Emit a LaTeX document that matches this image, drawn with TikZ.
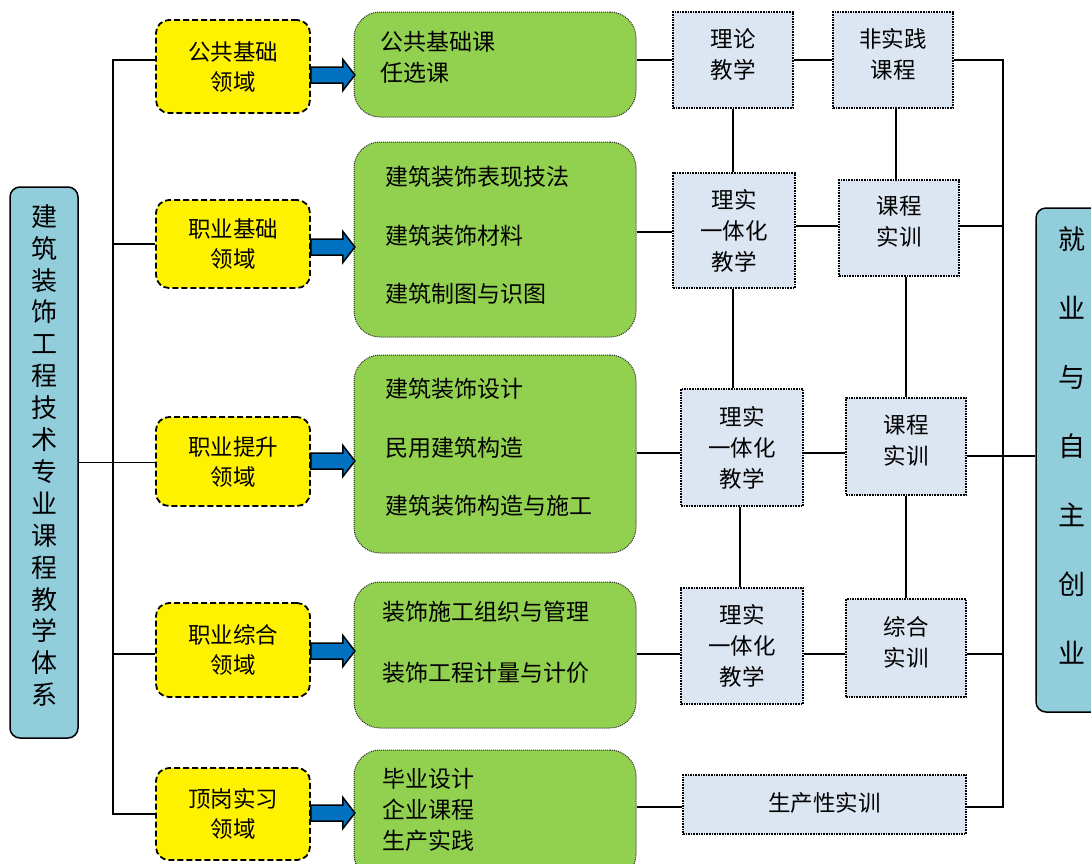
\documentclass[tikz,border=0pt]{standalone}
\usepackage{fontspec}
\newfontfamily\cjk{Noto Sans CJK SC}
\definecolor{sidecyan}{RGB}{146,205,220}
\definecolor{gfill}{RGB}{146,208,80}
\definecolor{tfill}{RGB}{220,230,242}
\definecolor{barrowc}{RGB}{0,112,192}
\begin{document}
\begin{tikzpicture}[x=1pt,y=-1pt,
  conn/.style={line width=1.5pt, black},
  sidebox/.style={draw=black, line width=1.5pt, fill=sidecyan, rounded corners=10pt, inner sep=0pt},
  ybox/.style={draw=black, line width=1.8pt, dash pattern=on 6pt off 3pt, fill=yellow, rounded corners=13pt,
    minimum width=154pt, inner sep=0pt, font=\cjk\fontsize{22.5}{30}\selectfont, align=center},
  gbox/.style={draw=black!85, line width=1pt, dash pattern=on 1pt off 1pt, fill=gfill, rounded corners=26pt,
    minimum width=282pt, inner sep=0pt},
  tbox/.style={draw=black, line width=1.6pt, dash pattern=on 1.6pt off 1pt, fill=tfill, inner sep=0pt},
  gtxt/.style={anchor=west, align=left, inner sep=0pt},
  ttxt/.style={align=center, inner sep=0pt, font=\cjk\fontsize{22.5}{31}\selectfont},
  barrow/.style={draw=black, line width=1.5pt, fill=barrowc, line join=miter},
  bluearrow/.pic={\draw[barrow] (0,-8) -- (32,-8) -- (32,-15.5) -- (44,0) -- (32,15.5) -- (32,8) -- (0,8) -- cycle;}
]
\clip (0,0) rectangle (1091,863);
\fill[white] (0,0) rectangle (1091,863);

% side boxes
\node[sidebox, minimum width=68pt, minimum height=551pt] (L) at (44,462.5) {};
\node[align=center, inner sep=0pt, font=\cjk\fontsize{26}{31.9}\selectfont] (Lt) at (44,455.5)
  {建\\筑\\装\\饰\\工\\程\\技\\术\\专\\业\\课\\程\\教\\学\\体\\系};
\node[sidebox, minimum width=76pt, minimum height=504pt] (E) at (1074,460) {};
\node[align=center, inner sep=0pt, font=\cjk\fontsize{27}{69}\selectfont] (Et) at (1072,445)
  {就\\业\\与\\自\\主\\创\\业};

% yellow boxes
\node[ybox, minimum height=93pt] (Y1) at (233,66.5) {公共基础\\领域};
\node[ybox, minimum height=88pt] (Y2) at (233,244) {职业基础\\领域};
\node[ybox, minimum height=89pt] (Y3) at (233,461.5) {职业提升\\领域};
\node[ybox, minimum height=94pt] (Y4) at (233,650) {职业综合\\领域};
\node[ybox, minimum height=92pt] (Y5) at (233,814) {顶岗实习\\领域};

% green boxes
\node[gbox, minimum height=105pt] (G1) at (495,64.5) {};
\node[gbox, minimum height=195pt] (G2) at (495,239.5) {};
\node[gbox, minimum height=198pt] (G3) at (495,454) {};
\node[gbox, minimum height=146pt] (G4) at (495,655) {};
\node[gbox, minimum height=130pt] (G5) at (495,815) {};
\node[gtxt, font=\cjk\fontsize{23}{31}\selectfont] (G1t) at (380,57.5) {公共基础课\\任选课};
\node[gtxt, font=\cjk\fontsize{23}{58.5}\selectfont] (G2t) at (385,235.5) {建筑装饰表现技法\\建筑装饰材料\\建筑制图与识图};
\node[gtxt, font=\cjk\fontsize{23}{58.5}\selectfont] (G3t) at (385,447.5) {建筑装饰设计\\民用建筑构造\\建筑装饰构造与施工};
\node[gtxt, font=\cjk\fontsize{23}{61}\selectfont] (G4t) at (382,642.5) {装饰施工组织与管理\\装饰工程计量与计价};
\node[gtxt, font=\cjk\fontsize{23}{31}\selectfont] (G5t) at (382,810) {毕业设计\\企业课程\\生产实践};

% grey boxes
\node[tbox, minimum width=120pt, minimum height=96pt] (T1) at (733,60) {};
\node[ttxt] (T1t) at (733,54) {理论\\教学};
\node[tbox, minimum width=120pt, minimum height=96pt] (N1) at (893,60) {};
\node[ttxt] (N1t) at (893,54) {非实践\\课程};
\node[tbox, minimum width=122pt, minimum height=115pt] (R2) at (734,230.5) {};
\node[ttxt] (R2t) at (734,231) {理实\\一体化\\教学};
\node[tbox, minimum width=120pt, minimum height=96pt] (S2) at (899,228) {};
\node[ttxt] (S2t) at (899,221.5) {课程\\实训};
\node[tbox, minimum width=122pt, minimum height=117pt] (R3) at (742,447.5) {};
\node[ttxt] (R3t) at (742,448) {理实\\一体化\\教学};
\node[tbox, minimum width=120pt, minimum height=97pt] (S3) at (906,446.5) {};
\node[ttxt] (S3t) at (906,441) {课程\\实训};
\node[tbox, minimum width=122pt, minimum height=116pt] (R4) at (742,646) {};
\node[ttxt] (R4t) at (742,646) {理实\\一体化\\教学};
\node[tbox, minimum width=120pt, minimum height=98pt] (Z4) at (906,648) {};
\node[ttxt] (Z4t) at (906,642.5) {综合\\实训};
\node[tbox, minimum width=283pt, minimum height=59pt] (P5) at (824.5,804.5) {};
\node[ttxt] (P5t) at (824.5,803) {生产性实训};

% blue arrows
\pic at (Y1.east |- 0,75) {bluearrow};
\pic at (Y2.east |- 0,247) {bluearrow};
\pic at (Y3.east |- 0,461) {bluearrow};
\pic at (Y4.east |- 0,651) {bluearrow};
\pic at (Y5.east |- 0,813) {bluearrow};

% left trunk
\coordinate (LT1) at (113,60);
\coordinate (LT5) at (113,814);
\draw[conn] (Y1.west |- LT1) -- (LT1) -- (LT5) -- (Y5.west |- LT5);
\draw[conn] (Y2.west) -- (Y2.west -| LT1);
\draw[conn] (L.east) -- (L.east -| Y3.west);
\draw[conn] (Y4.west |- 0,654) -- (LT1 |- 0,654);

% green to grey
\draw[conn] (G1.east |- T1.west) -- (T1.west);
\draw[conn] (G2.east |- 0,232) -- (R2.west |- 0,232);
\draw[conn] (G3.east |- 0,453) -- (R3.west |- 0,453);
\draw[conn] (G4.east |- 0,654) -- (R4.west |- 0,654);
\draw[conn] (G5.east |- 0,807) -- (P5.west |- 0,807);

% grey to grey
\draw[conn] (T1.east) -- (N1.west);
\draw[conn] (R2.east |- 0,226) -- (S2.west |- 0,226);
\draw[conn] (R3.east |- 0,453) -- (S3.west |- 0,453);
\draw[conn] (R4.east |- 0,654) -- (Z4.west |- 0,654);

% verticals
\draw[conn] (T1.south) -- (T1.south |- R2.north);
\draw[conn] (R2.south -| 733,0) -- (R3.north -| 733,0);
\draw[conn] (R3.south -| 740,0) -- (R4.north -| 740,0);
\draw[conn] (N1.south -| 896,0) -- (S2.north -| 896,0);
\draw[conn] (S2.south -| 906,0) -- (S3.north -| 906,0);
\draw[conn] (S3.south) -- (Z4.north);

% right trunk
\coordinate (RT1) at (1003,60);
\coordinate (RT5) at (1003,807);
\draw[conn] (N1.east |- RT1) -- (RT1) -- (RT5) -- (P5.east |- RT5);
\draw[conn] (S2.east |- 0,226) -- (RT1 |- 0,226);
\draw[conn] (S3.east |- 0,456) -- (E.west |- 0,456);
\draw[conn] (Z4.east |- 0,654) -- (RT1 |- 0,654);
\end{tikzpicture}
\end{document}
